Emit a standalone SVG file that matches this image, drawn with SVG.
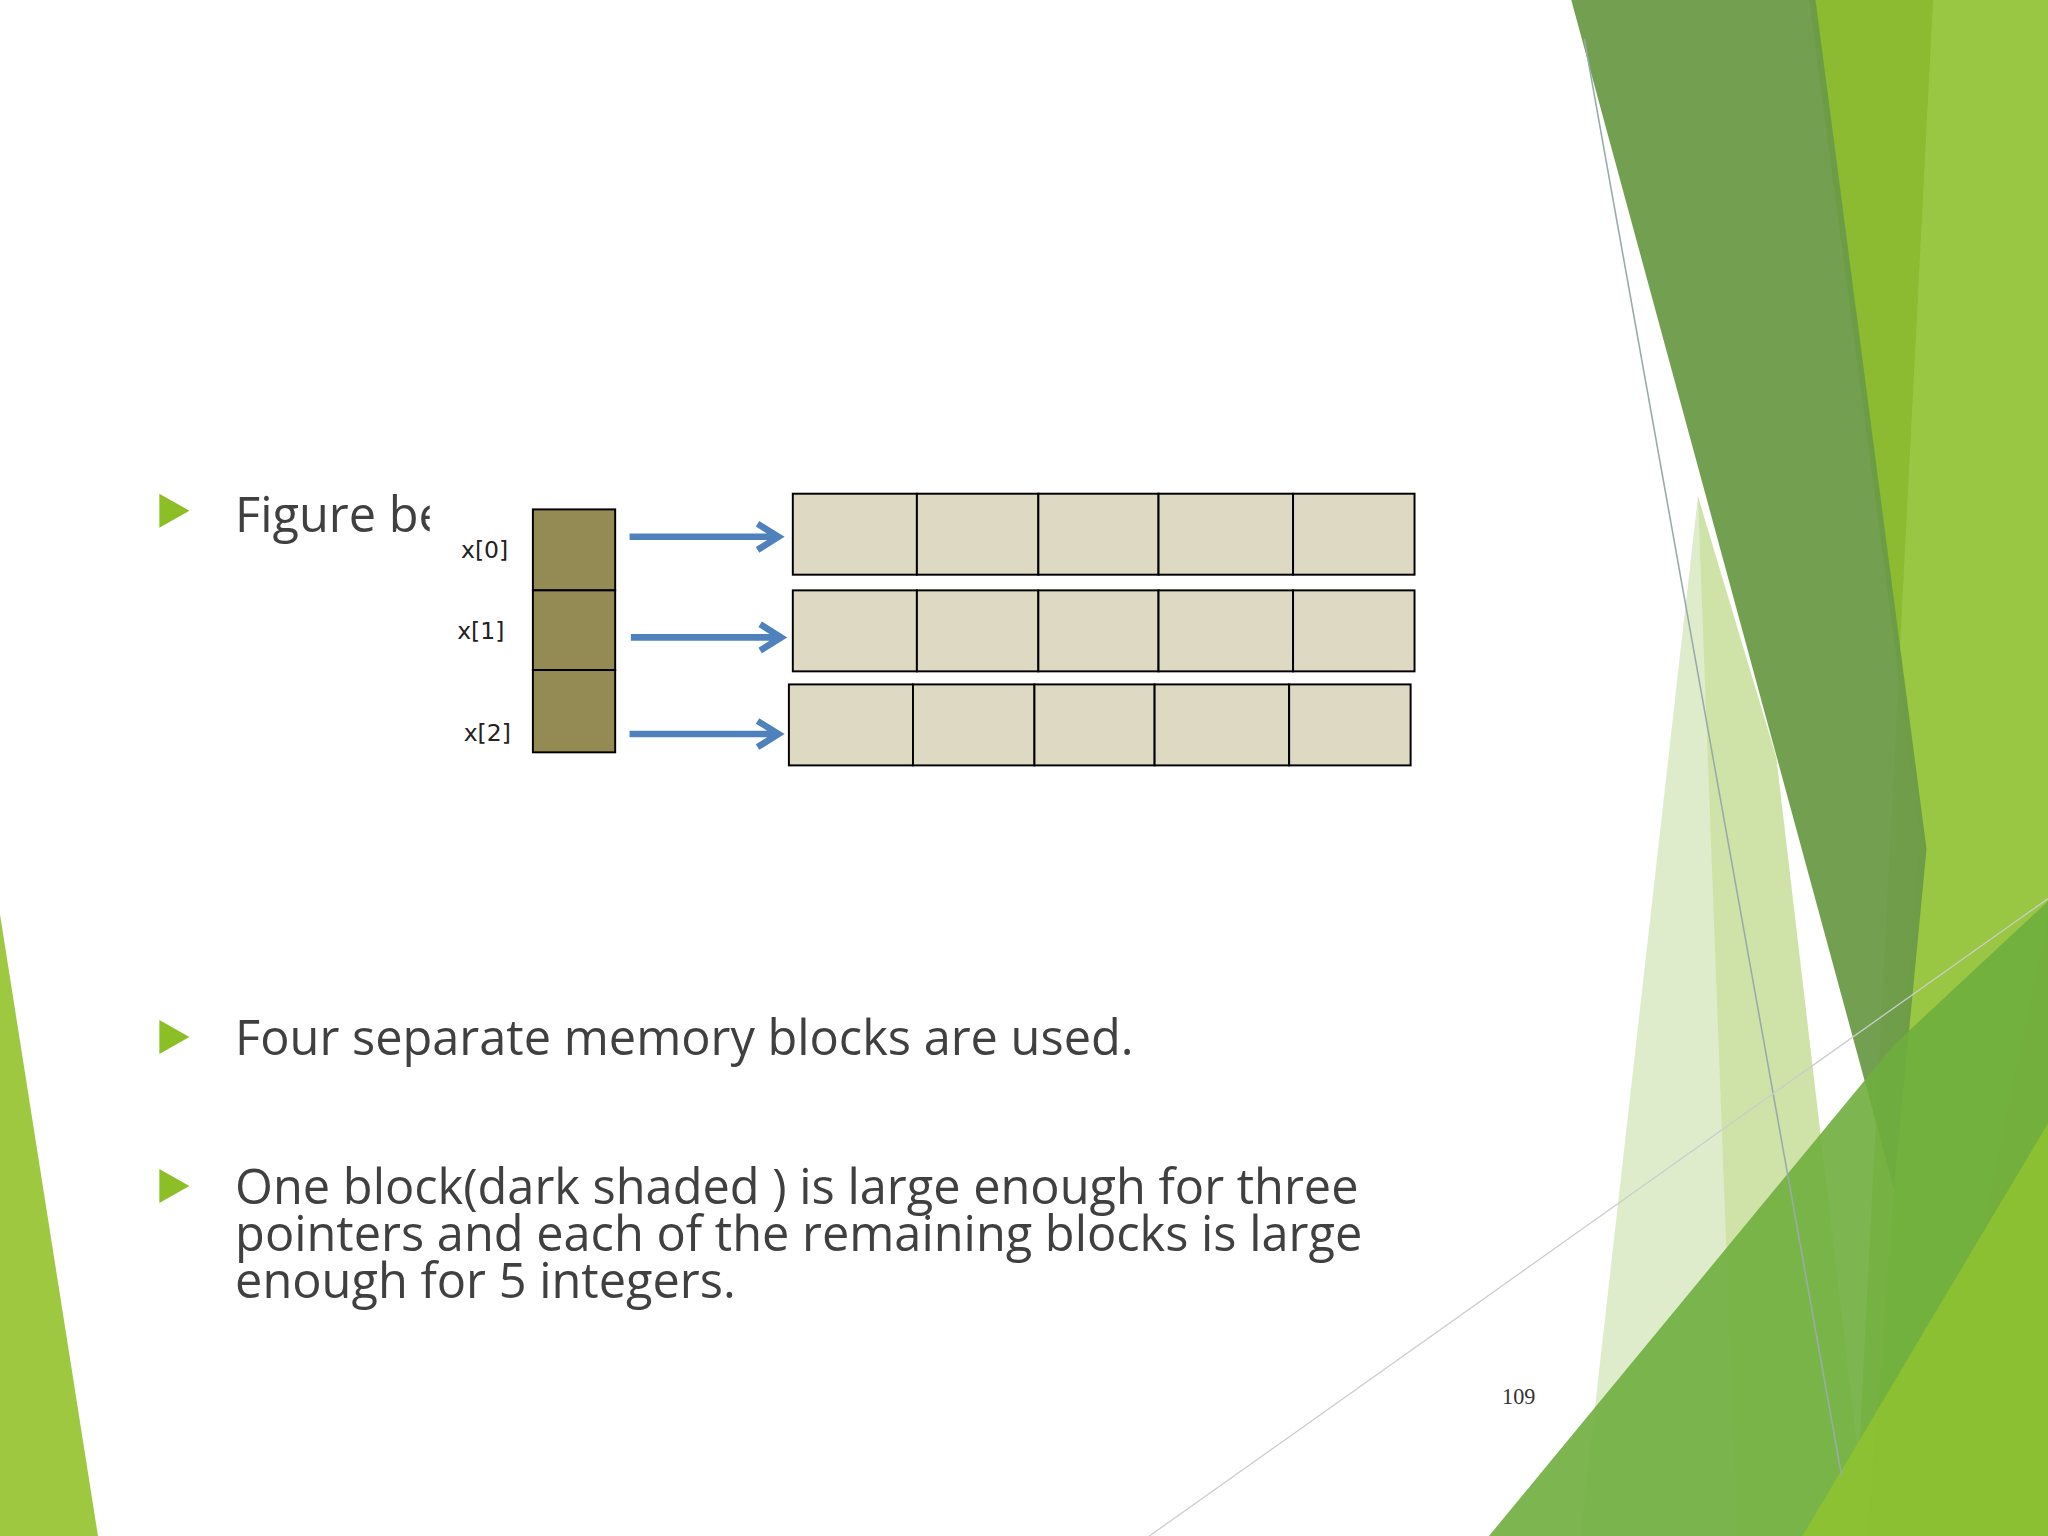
<svg xmlns="http://www.w3.org/2000/svg" width="2048" height="1536" viewBox="0 0 2048 1536">
<style>
.t{font-family:"Open Sans","Noto Sans",sans-serif;font-size:37.3px;fill:#404040}
.c{fill:#ddd9c3;stroke:#000;stroke-width:1.5}
.p{fill:#948a54;stroke:#000;stroke-width:1.5}
.l{font-family:"DejaVu Sans",sans-serif;font-size:18px;fill:#222}
.a{stroke:#4f81bd;stroke-width:5;fill:none}
.b{fill:#8cbf26}
</style>
<rect width="2048" height="1536" fill="#fff"/>
<g transform="scale(1.30612)">
<g id="background">
<polygon points="0,700 75,1176 0,1176" fill="#9dc83f"/>
<polygon points="1210,1176 1300,380 1420,1176" fill="#dfeccb"/>
<polygon points="1300,380 1360,580 1430,1176 1330,1176" fill="#cfe3a8"/>
<polygon points="1385,0 1568,0 1568,1176 1430,1176 1470,640" fill="#8cbb32"/>
<polygon points="1480,0 1540,0 1568,0 1568,700 1470,1176 1420,1176" fill="#9ccb48" opacity="0.8"/>
<polygon points="1203,0 1390,0 1475,650 1450,910" fill="#6c9a48" opacity="0.95"/>
<polygon points="1140,1176 1450,800 1568,690 1568,1176" fill="#6fae3e" opacity="0.9"/>
<polygon points="1380,1176 1568,860 1568,1176" fill="#8fc232" opacity="0.9"/>
<line x1="1213" y1="30" x2="1410" y2="1130" stroke="#9aa" stroke-width="1.2"/>
<line x1="880" y1="1176" x2="1568" y2="688" stroke="#ccc" stroke-width="1"/>
</g>
<g id="bullets">
<polygon class="b" points="122,378 145,391 122,404"/>
<polygon class="b" points="122,781 145,794 122,807"/>
<polygon class="b" points="122,895 145,908 122,921"/>
<text class="t" x="180" y="407">Figure be</text>
<rect x="329" y="360" width="760" height="240" fill="#fff"/>
<text class="t" x="180" y="808">Four separate memory blocks are used.</text>
<text class="t" x="180" y="922">One block(dark shaded ) is large enough for three</text>
<text class="t" x="180" y="958">pointers and each of the remaining blocks is large</text>
<text class="t" x="180" y="994">enough for 5 integers.</text>
<text x="1150" y="1075" font-family="Liberation Serif,serif" font-size="17" fill="#333">109</text>
</g>
<g id="pointers">
<rect class="p" x="408" y="390" width="63" height="62"/>
<rect class="p" x="408" y="452" width="63" height="61"/>
<rect class="p" x="408" y="513" width="63" height="63"/>
<text class="l" x="353" y="427">x[0]</text>
<text class="l" x="350" y="489">x[1]</text>
<text class="l" x="355" y="567">x[2]</text>
</g>
<g id="row0">
<rect class="c" x="607" y="378" width="95" height="62"/><rect class="c" x="702" y="378" width="93" height="62"/><rect class="c" x="795" y="378" width="92" height="62"/><rect class="c" x="887" y="378" width="103" height="62"/><rect class="c" x="990" y="378" width="93" height="62"/>
</g>
<g id="row1">
<rect class="c" x="607" y="452" width="95" height="62"/><rect class="c" x="702" y="452" width="93" height="62"/><rect class="c" x="795" y="452" width="92" height="62"/><rect class="c" x="887" y="452" width="103" height="62"/><rect class="c" x="990" y="452" width="93" height="62"/>
</g>
<g id="row2">
<rect class="c" x="604" y="524" width="95" height="62"/><rect class="c" x="699" y="524" width="93" height="62"/><rect class="c" x="792" y="524" width="92" height="62"/><rect class="c" x="884" y="524" width="103" height="62"/><rect class="c" x="987" y="524" width="93" height="62"/>
</g>
<g id="connectors">
<path class="a" d="M482 411H595M580 401L596 411L580 421"/>
<path class="a" d="M483 488H597M582 478L598 488L582 498"/>
<path class="a" d="M482 562H595M580 552L596 562L580 572"/>
</g>
</g>
</svg>
